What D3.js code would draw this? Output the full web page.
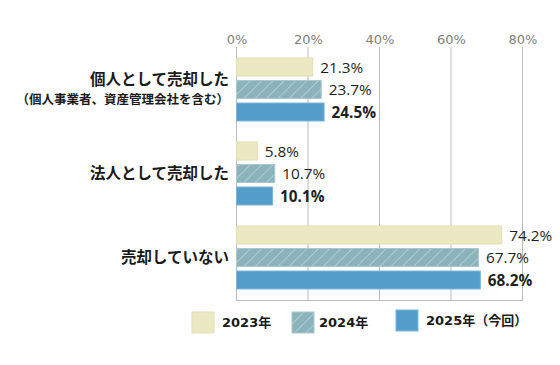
<!DOCTYPE html>
<html><head><meta charset="utf-8">
<script src="https://cdn.jsdelivr.net/npm/d3@7"></script>
<style>
html,body{margin:0;padding:0;background:#fff;}
svg{display:block;}
</style></head>
<body>
<svg id="chart" width="560" height="365"></svg>
<script>
const categories = ["個人として売却した", "法人として売却した", "売却していない"];
const categorySubLabels = ["（個人事業者、資産管理会社を含む）", "", ""];
const seriesNames = ["2023年", "2024年", "2025年（今回）"];
const values2023 = [21.3, 5.8, 74.2];
const values2024 = [23.7, 10.7, 67.7];
const values2025 = [24.5, 10.1, 68.2];
const tickValues = [0, 20, 40, 60, 80];

const seriesValues = [values2023, values2024, values2025];
const colors = ["#ece8c2", "#8ab3bb", "#549ecc"];
const strokes = ["#e3dfb6", "#a9c8ce", "#7ab5da"];

const svg = d3.select("#chart");
const defs = svg.append("defs");
const pat = defs.append("pattern").attr("id","hatch").attr("patternUnits","userSpaceOnUse")
  .attr("width",8).attr("height",8).attr("patternTransform","rotate(45)");
pat.append("rect").attr("width",8).attr("height",8).attr("fill",colors[1]);
pat.append("line").attr("x1",0).attr("y1",0).attr("x2",0).attr("y2",8)
  .attr("stroke","#ffffff").attr("stroke-opacity",0.55).attr("stroke-width",1.2);

const x = d3.scaleLinear().domain([0, 80]).range([236, 522]);
const y = d3.scaleBand().domain(categories).range([47.5, 299.5]).paddingInner(0).paddingOuter(0);
const ySub = d3.scaleBand().domain(seriesNames).range([10.5, 73.5]).paddingInner(0.2).paddingOuter(0);

const valueFont = "'Open Sans', 'Noto Sans', sans-serif";
// size value labels so "21.3%" is about 44px wide, as in the reference
const probe = svg.append("text").attr("font-family", valueFont).attr("font-size", 100).text("21.3%");
const probeW = probe.node().getComputedTextLength() || 320;
probe.remove();
const valueSize = Math.max(11, Math.min(16, 100 * 43 / probeW));

// gridlines
svg.append("g").selectAll("line").data(tickValues).join("line")
  .attr("x1", d => x(d) + 0.5).attr("x2", d => x(d) + 0.5)
  .attr("y1", 47).attr("y2", 300)
  .attr("stroke", "#bcbcbc").attr("stroke-width", 1);
svg.append("line").attr("x1", x(0)).attr("x2", x(80)+1).attr("y1", 300.5).attr("y2", 300.5)
  .attr("stroke", "#bcbcbc");

// top axis labels
const axis = d3.axisTop(x).tickValues(tickValues).tickFormat(d => d + "%").tickSize(0).tickPadding(0);
const ag = svg.append("g").attr("transform", "translate(0.5,44)").call(axis);
ag.select(".domain").remove();
ag.selectAll("text").attr("font-family", "'DejaVu Sans', Verdana, sans-serif")
  .attr("font-size", 13).attr("fill", "#808080");

// bars
const groups = svg.append("g").selectAll("g").data(categories).join("g")
  .attr("transform", d => `translate(0,${y(d)})`);

seriesNames.forEach((s, si) => {
  groups.append("rect")
    .attr("x", x(0) + 0.5)
    .attr("y", (d) => ySub(s))
    .attr("width", (d, i) => x(seriesValues[si][i]) - x(0))
    .attr("height", ySub.bandwidth())
    .attr("fill", si === 1 ? "url(#hatch)" : colors[si])
    .attr("stroke", strokes[si]).attr("stroke-width", 1);
  groups.append("text")
    .attr("x", (d, i) => x(seriesValues[si][i]) + 8)
    .attr("y", ySub(s) + ySub.bandwidth() / 2)
    .attr("dy", "0.36em")
    .attr("font-family", valueFont)
    .attr("font-size", valueSize)
    .attr("font-weight", si === 2 ? "bold" : "normal")
    .attr("fill", "#1f1f1f")
    .text((d, i) => seriesValues[si][i].toFixed(1) + "%");
});

// category labels
groups.each(function(d, i) {
  const g = d3.select(this);
  const c = y.bandwidth() / 2;
  const sub = categorySubLabels[i];
  if (sub) {
    g.append("text").attr("x", 229).attr("y", c - 10).attr("dy", "0.36em")
      .attr("text-anchor", "end").attr("font-family", "'Noto Sans CJK JP', sans-serif")
      .attr("font-weight", "bold").attr("font-size", 15.5).attr("fill", "#1a1a1a").text(d);
    g.append("text").attr("x", 229).attr("y", c + 10).attr("dy", "0.36em")
      .attr("text-anchor", "end").attr("font-family", "'Noto Sans CJK JP', sans-serif")
      .attr("font-weight", "bold").attr("font-size", 12.5).attr("fill", "#1a1a1a").text(sub);
  } else {
    g.append("text").attr("x", 229).attr("y", c).attr("dy", "0.36em")
      .attr("text-anchor", "end").attr("font-family", "'Noto Sans CJK JP', sans-serif")
      .attr("font-weight", "bold").attr("font-size", 15.5).attr("fill", "#1a1a1a").text(d);
  }
});

// legend
const legendX = [192, 292, 396];
const leg = svg.append("g").selectAll("g").data(seriesNames).join("g")
  .attr("transform", (d, i) => `translate(${legendX[i]},${i === 2 ? 310 : 312})`);
leg.append("rect").attr("width", 22).attr("height", 21)
  .attr("fill", (d, i) => i === 1 ? "url(#hatch)" : colors[i])
  .attr("stroke", (d, i) => strokes[i]);
leg.append("text").attr("x", (d, i) => i === 1 ? 27 : 30).attr("y", 10.5).attr("dy", "0.36em")
  .attr("font-family", "'DejaVu Sans', 'Noto Sans CJK JP', sans-serif")
  .attr("font-weight", "bold").attr("font-size", 13).attr("fill", "#1a1a1a")
  .text(d => d);
</script>
</body></html>
